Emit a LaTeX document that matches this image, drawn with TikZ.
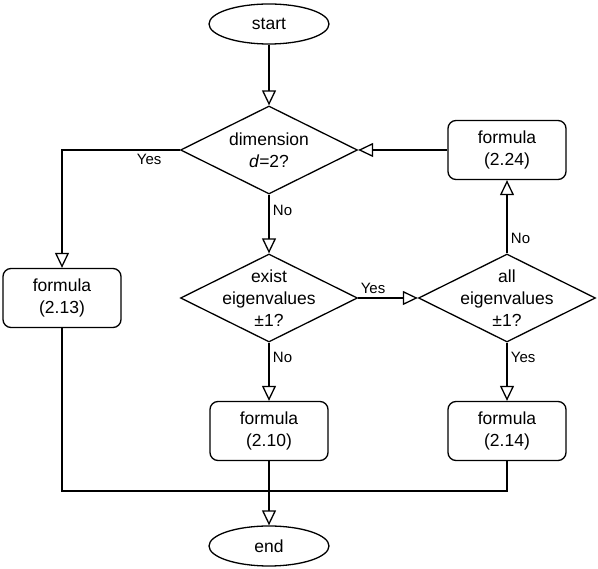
\documentclass[tikz,border=0pt]{standalone}
\usepackage{fontspec}
\setmainfont{Liberation Sans}
\usetikzlibrary{shapes.geometric, positioning, arrows.meta}

\tikzset{
    terminal/.style={draw, ellipse, line width=1.3pt, minimum width=120pt, minimum height=40pt, inner sep=0pt},
    decision/.style={draw, diamond, line width=1.3pt, minimum width=177pt, minimum height=88pt, inner sep=0pt,
        label={[align=center]center:#1}},
    formula/.style={draw, rounded corners=8pt, line width=1.3pt, minimum width=118pt, minimum height=59pt, align=center},
    flow/.style={line width=1.3pt, -{Triangle[open, length=15pt, width=14pt]}},
    lbl/.style={font=\fontsize{15}{18}\selectfont}
}

\begin{document}
\begin{tikzpicture}[node distance=2cm, on grid, font=\fontsize{17.5}{22}\selectfont]
    \useasboundingbox (0,0) rectangle (598pt,-569pt);
    \node[terminal] (start) at (269pt,-24pt) {start};
    \node[decision={dimension\\\textit{d}=2?}] (dim) [below=126pt of start] {};
    \node[decision={exist\\eigenvalues\\±1?}] (exist) [below=148pt of dim] {};
    \node[formula] (f210) [below=133pt of exist] {formula\\(2.10)};
    \node[terminal] (end) [below=115pt of f210] {end};
    \node[formula] (f213) [left=207pt of exist] {formula\\(2.13)};
    \node[decision={all\\eigenvalues\\±1?}] (all) [right=238pt of exist] {};
    \node[formula] (f224) [above=148pt of all] {formula\\(2.24)};
    \node[formula] (f214) [below=133pt of all] {formula\\(2.14)};
    \coordinate[below=60pt of f210] (join);

    \draw[flow] (start) -- (dim);
    \draw[flow] (dim.west) -| node[lbl, pos=0.13, below] {Yes} (f213.north);
    \draw[flow] (dim.south) -- node[lbl, pos=0.27, right] {No} (exist.north);
    \draw[flow] (exist.east) -- node[lbl, pos=0.25, above] {Yes} (all.west);
    \draw[flow] (exist.south) -- node[lbl, pos=0.25, right] {No} (f210.north);
    \draw[flow] (all.north) -- node[lbl, pos=0.2, right] {No} (f224.south);
    \draw[flow] (all.south) -- node[lbl, pos=0.25, right] {Yes} (f214.north);
    \draw[flow] (f224.west) -- (dim.east);
    \draw[line width=1.3pt] (f213.south) |- (join);
    \draw[line width=1.3pt] (f214.south) |- (join);
    \draw[flow] (f210.south) -- (end.north);
\end{tikzpicture}
\end{document}
